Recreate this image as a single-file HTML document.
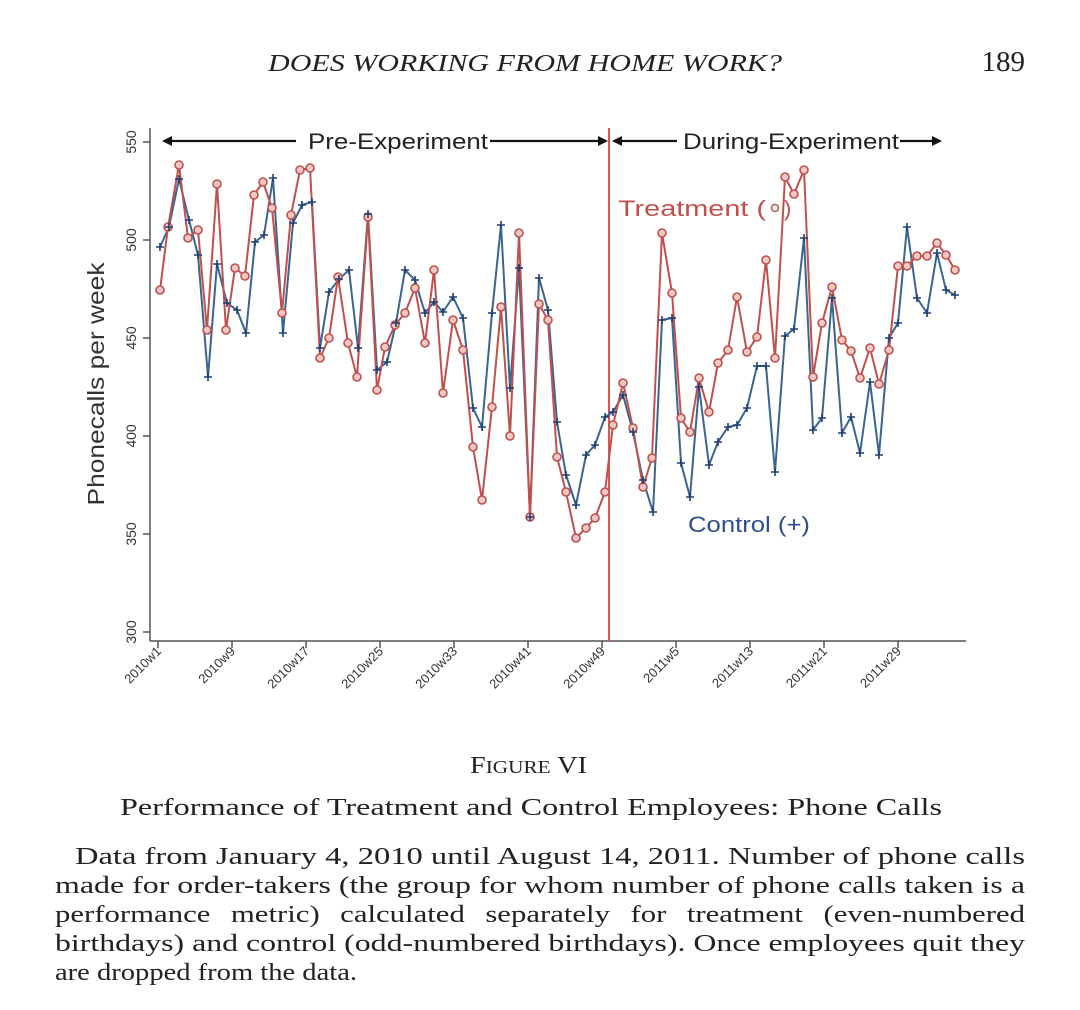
<!DOCTYPE html>
<html><head><meta charset="utf-8"><style>
body{margin:0;background:#fff;width:1080px;height:1010px;overflow:hidden;position:relative;font-family:"Liberation Serif",serif;color:#222}
</style></head><body>
<svg width="1080" height="1010" style="position:absolute;left:0;top:0">
<defs>
<marker id="ah" markerWidth="10" markerHeight="10" refX="8" refY="5" orient="auto" markerUnits="userSpaceOnUse"><path d="M0,0 L10,5 L0,10 z" fill="#111"/></marker>
</defs>
<text x="268" y="71" textLength="514" lengthAdjust="spacingAndGlyphs" font-family="Liberation Serif" font-style="italic" font-size="24" fill="#222">DOES WORKING FROM HOME WORK?</text>
<text x="1025" y="71" text-anchor="end" font-family="Liberation Serif" font-size="29" fill="#222">189</text>
<g stroke="#555" stroke-width="1.5" fill="none">
<line x1="150" y1="128" x2="150" y2="641"/>
<line x1="150" y1="641" x2="966" y2="641"/>
<line x1="143" y1="142" x2="150" y2="142"/><line x1="143" y1="240" x2="150" y2="240"/><line x1="143" y1="338" x2="150" y2="338"/><line x1="143" y1="436" x2="150" y2="436"/><line x1="143" y1="534" x2="150" y2="534"/><line x1="143" y1="632" x2="150" y2="632"/>
</g>
<g stroke="#555" stroke-width="1.5">
<line x1="158" y1="641" x2="158" y2="648"/><line x1="232" y1="641" x2="232" y2="648"/><line x1="306" y1="641" x2="306" y2="648"/><line x1="380" y1="641" x2="380" y2="648"/><line x1="454" y1="641" x2="454" y2="648"/><line x1="528" y1="641" x2="528" y2="648"/><line x1="602" y1="641" x2="602" y2="648"/><line x1="676" y1="641" x2="676" y2="648"/><line x1="750" y1="641" x2="750" y2="648"/><line x1="824" y1="641" x2="824" y2="648"/><line x1="898" y1="641" x2="898" y2="648"/>
</g>
<g font-family="Liberation Sans" font-size="14" fill="#333" text-anchor="middle">
<text transform="translate(131,142) rotate(-90)" dy="5">550</text>
<text transform="translate(131,240) rotate(-90)" dy="5">500</text>
<text transform="translate(131,338) rotate(-90)" dy="5">450</text>
<text transform="translate(131,436) rotate(-90)" dy="5">400</text>
<text transform="translate(131,534) rotate(-90)" dy="5">350</text>
<text transform="translate(131,632) rotate(-90)" dy="5">300</text>
</g>
<g font-family="Liberation Sans" font-size="13" fill="#333" text-anchor="end">
<text transform="translate(162,652) rotate(-45)">2010w1</text>
<text transform="translate(236,652) rotate(-45)">2010w9</text>
<text transform="translate(310,652) rotate(-45)">2010w17</text>
<text transform="translate(384,652) rotate(-45)">2010w25</text>
<text transform="translate(458,652) rotate(-45)">2010w33</text>
<text transform="translate(532,652) rotate(-45)">2010w41</text>
<text transform="translate(606,652) rotate(-45)">2010w49</text>
<text transform="translate(680,652) rotate(-45)">2011w5</text>
<text transform="translate(754,652) rotate(-45)">2011w13</text>
<text transform="translate(828,652) rotate(-45)">2011w21</text>
<text transform="translate(902,652) rotate(-45)">2011w29</text>
</g>
<text transform="translate(104,384) rotate(-90)" text-anchor="middle" textLength="243" lengthAdjust="spacingAndGlyphs" font-family="Liberation Sans" font-size="23" fill="#333">Phonecalls per week</text>
<line x1="609" y1="128" x2="609" y2="641" stroke="#e04040" stroke-width="1.8"/>
<g stroke="#111" stroke-width="2.2" fill="none">
<line x1="296" y1="141" x2="164" y2="141" marker-end="url(#ah)"/>
<line x1="490" y1="141" x2="606" y2="141" marker-end="url(#ah)"/>
<line x1="677" y1="141" x2="614" y2="141" marker-end="url(#ah)"/>
<line x1="900" y1="141" x2="940" y2="141" marker-end="url(#ah)"/>
</g>
<g font-family="Liberation Sans" font-size="22" fill="#222">
<text x="308" y="149" textLength="180" lengthAdjust="spacingAndGlyphs">Pre-Experiment</text>
<text x="683" y="149" textLength="216" lengthAdjust="spacingAndGlyphs">During-Experiment</text>
</g>
<text x="618" y="216" textLength="148" lengthAdjust="spacingAndGlyphs" font-family="Liberation Sans" font-size="22" fill="#c0504d">Treatment (</text>
<circle cx="775" cy="208" r="3.5" fill="none" stroke="#c0504d" stroke-width="1.5"/>
<text x="784" y="216" font-family="Liberation Sans" font-size="22" fill="#c0504d">)</text>
<text x="688" y="532" textLength="122" lengthAdjust="spacingAndGlyphs" font-family="Liberation Sans" font-size="22" fill="#2e4f8f">Control (+)</text>
<g id="blue" fill="none" stroke="#3a6590" stroke-width="2">
<polyline points="160,247 169,227 179,179 189,220 198,255 208,377 217,264 227,303 237,310 246,333 255,242 264,235 273,178 283,333 293,223 302,205 312,202 320,348 329,292 339,279 349,270 358,348 368,214 377,370 387,362 396,323 405,270 415,280 425,313 434,302 443,312 453,297 463,318 473,408 482,427 492,313 501,225 510,388 519,268 530,517 539,278 548,310 557,422 566,475 576,505 586,455 595,445 605,417 613,412 623,395 633,432 643,480 653,512 662,320 672,318 681,463 690,497 699,387 709,465 718,442 728,427 737,425 747,408 757,366 766,366 775,472 785,336 794,329 804,238 813,430 822,418 832,298 842,433 851,417 860,453 870,382 879,455 889,338 898,323 907,227 917,298 927,313 937,253 946,290 955,295"/>
</g>
<g fill="none" stroke="#c0504d" stroke-width="2">
<polyline id="red" points="160,290 168,227 179,165 188,238 198,230 207,330 217,184 226,330 235,268 245,276 254,195 263,182 272,208 282,313 291,215 300,170 310,168 320,358 329,338 338,277 348,343 357,377 368,217 377,390 385,347 395,325 405,313 415,288 425,343 434,270 443,393 453,320 463,350 473,447 482,500 492,407 501,307 510,436 519,233 530,517 539,304 548,320 557,457 566,492 576,538 586,528 595,518 605,492 613,425 623,383 633,428 643,487 652,458 662,233 672,293 681,418 690,432 699,378 709,412 718,363 728,350 737,297 747,352 757,337 766,260 775,358 785,177 794,194 804,170 813,377 822,323 832,287 842,340 851,351 860,378 870,348 879,384 889,350 898,266 907,266 917,256 927,256 937,243 946,255 955,270"/>
</g>
<g id="marks"></g>
<text x="470" y="773" textLength="117" lengthAdjust="spacingAndGlyphs" font-family="Liberation Serif" font-size="24" fill="#222">F<tspan font-size="18">IGURE</tspan> VI</text>
<text x="120" y="815" textLength="822" lengthAdjust="spacingAndGlyphs" font-family="Liberation Serif" font-size="24" fill="#222">Performance of Treatment and Control Employees: Phone Calls</text>
<g font-family="Liberation Serif" font-size="24" fill="#222">
<text x="75" y="864" textLength="950" lengthAdjust="spacingAndGlyphs">Data from January 4, 2010 until August 14, 2011. Number of phone calls</text>
<text x="55" y="893" textLength="970" lengthAdjust="spacingAndGlyphs">made for order-takers (the group for whom number of phone calls taken is a</text>
<text x="55" y="922" textLength="970" lengthAdjust="spacingAndGlyphs" word-spacing="10">performance metric) calculated separately for treatment (even-numbered</text>
<text x="55" y="951" textLength="970" lengthAdjust="spacingAndGlyphs">birthdays) and control (odd-numbered birthdays). Once employees quit they</text>
<text x="55" y="980" textLength="302" lengthAdjust="spacingAndGlyphs">are dropped from the data.</text>
</g>
</svg>
<script>
(function(){
var ns="http://www.w3.org/2000/svg",g=document.getElementById("marks");
var r=document.getElementById("red").getAttribute("points").trim().split(/\s+/);
r.forEach(function(p){var a=p.split(",");var c=document.createElementNS(ns,"circle");c.setAttribute("cx",a[0]);c.setAttribute("cy",a[1]);c.setAttribute("r","4");c.setAttribute("fill","#f0c8c4");c.setAttribute("stroke","#c0504d");c.setAttribute("stroke-width","1.6");g.appendChild(c);});
var b=document.querySelector("#blue polyline").getAttribute("points").trim().split(/\s+/);
b.forEach(function(p){var a=p.split(",");var x=+a[0],y=+a[1];var l=document.createElementNS(ns,"path");l.setAttribute("d","M"+(x-4)+","+y+"H"+(x+4)+"M"+x+","+(y-4)+"V"+(y+4));l.setAttribute("stroke","#1f3f70");l.setAttribute("stroke-width","1.6");g.appendChild(l);});
})();
</script>
</body></html>
